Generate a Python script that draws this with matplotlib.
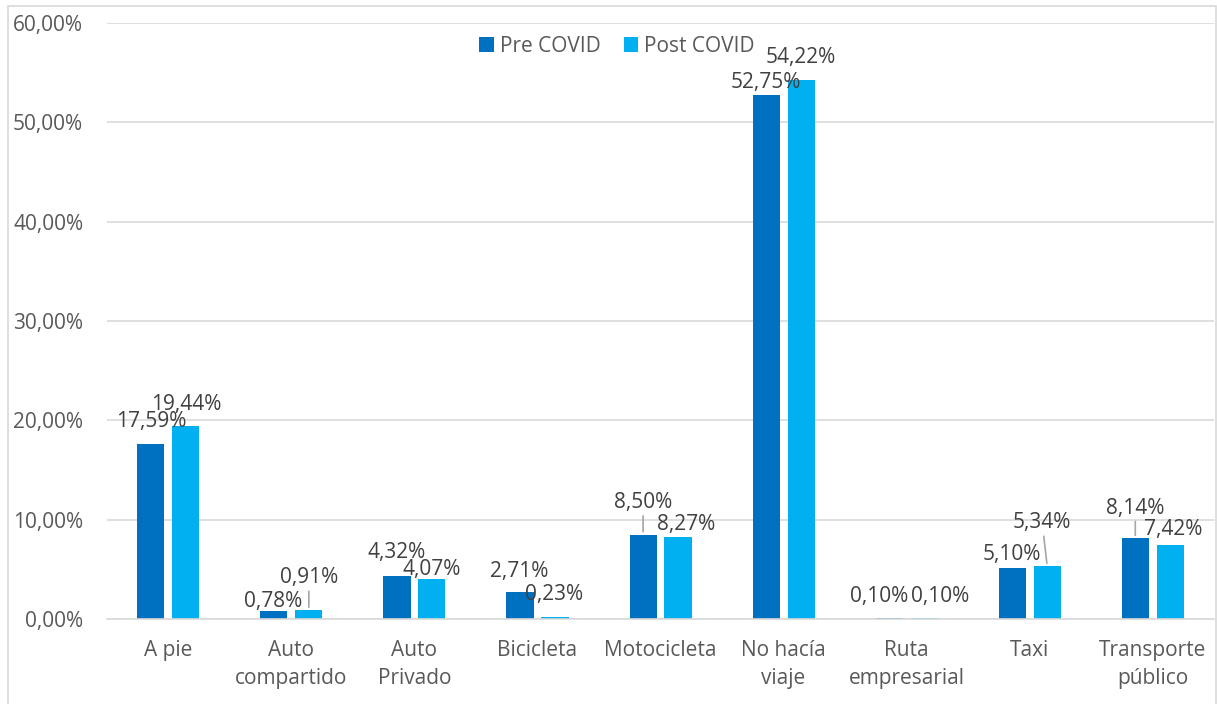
import matplotlib
matplotlib.use("Agg")
import matplotlib.pyplot as plt
import numpy as np
from matplotlib.patches import Rectangle

categories = ["A pie", "Auto\ncompartido", "Auto\nPrivado", "Bicicleta", "Motocicleta",
              "No hacía\nviaje", "Ruta\nempresarial", "Taxi", "Transporte\npúblico"]
pre_covid = [17.59, 0.78, 4.32, 2.71, 8.50, 52.75, 0.10, 5.10, 8.14]
post_covid = [19.44, 0.91, 4.07, 0.23, 8.27, 54.22, 0.10, 5.34, 7.42]
series_names = ["Pre COVID", "Post COVID"]
y_ticks = [0, 10, 20, 30, 40, 50, 60]

# label placement offsets (pixels) relative to bar top
pre_offsets = [(0, 23), (-1, 10), (0, 24), (-1, 21), (0, 32), (0, 13), (-10, 22), (0, 14), (0, 30)]
post_offsets = [(0, 21), (0, 32), (0, 9), (-1, 22), (8, 12), (0, 23), (16, 22), (-5, 43), (3, 16)]
pre_leaders = {4, 8}
post_leaders = {1, 7}

plt.rcParams['font.family'] = ['Open Sans', 'DejaVu Sans']
TXT = '#595959'
LBL = '#404040'
GRID = '#d9d9d9'
FS = 15

fig = plt.figure(figsize=(12.17, 7.04), dpi=100)
ax = fig.add_axes([106.8/1217, 1-619/704, (1214.3-106.8)/1217, (619-23)/704])

x = np.arange(len(categories))
w = 0.22
off = 0.142
c_pre, c_post = '#0070C0', '#00B0F0'
b1 = ax.bar(x - off, pre_covid, w, color=c_pre, label=series_names[0], zorder=3)
b2 = ax.bar(x + off, post_covid, w, color=c_post, label=series_names[1], zorder=3)

ax.set_xlim(-0.5, len(categories) - 0.5)
ax.set_ylim(0, 60)
ax.set_yticks(y_ticks)
ax.set_yticklabels([f"{v:.2f}".replace('.', ',') + '%' for v in y_ticks], color=TXT, fontsize=FS)
ax.set_xticks(x)
ax.set_xticklabels(categories, color=TXT, fontsize=FS, linespacing=1.47)
ax.tick_params(axis='y', length=0, pad=17)
ax.tick_params(axis='x', length=0, pad=15)
ax.yaxis.grid(True, color=GRID, linewidth=1.2, zorder=0)
for s in ['top', 'right', 'left']:
    ax.spines[s].set_visible(False)
ax.spines['bottom'].set_color(GRID)
ax.spines['bottom'].set_linewidth(1.2)
ax.spines['bottom'].set_zorder(4)

def fmt(v):
    return f"{v:.2f}".replace('.', ',') + '%'

for vals, offs, leaders, sign in [(pre_covid, pre_offsets, pre_leaders, -1),
                                  (post_covid, post_offsets, post_leaders, 1)]:
    for i, v in enumerate(vals):
        xi = x[i] + sign * off
        dx, dy = offs[i]
        kw = {}
        if i in leaders:
            kw['arrowprops'] = dict(arrowstyle='-', color='#a6a6a6', lw=1.2, shrinkA=0, shrinkB=2)
        ax.annotate(fmt(v), xy=(xi, v), xytext=(dx, dy), textcoords='offset pixels',
                    ha='center', va='center', color=LBL, fontsize=FS, zorder=5,
                    annotation_clip=False, **kw)

leg = fig.legend(handles=[b1, b2], labels=series_names, loc='center',
                 bbox_to_anchor=(617/1217, 1-46/704), ncol=2, frameon=False,
                 fontsize=FS, handlelength=0.7, handleheight=0.7, handletextpad=0.3,
                 columnspacing=1.1, labelcolor=TXT)

fig.patches.append(Rectangle((8/1217, -0.01), 1208/1217, 1 - 6/704 + 0.01,
                             transform=fig.transFigure, fill=False, edgecolor=GRID, lw=1.2))

fig.savefig('out.png', dpi=100)
